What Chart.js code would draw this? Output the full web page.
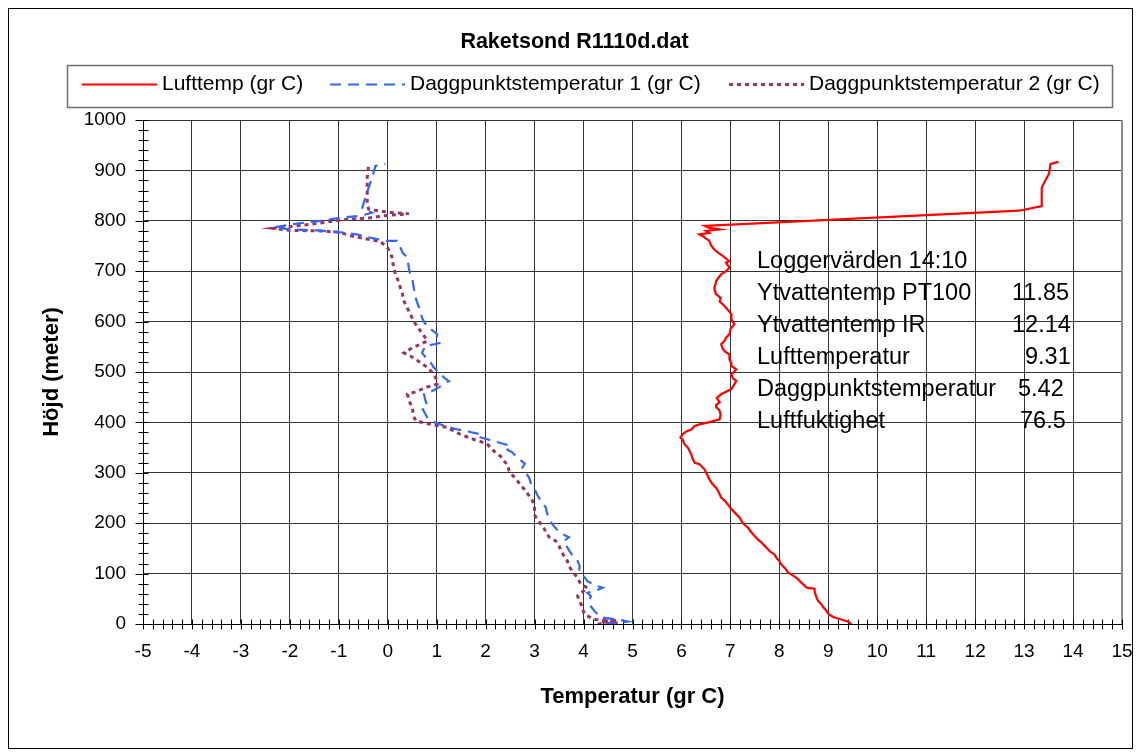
<!DOCTYPE html>
<html>
<head>
<meta charset="utf-8">
<title>Raketsond R1110d.dat</title>
<script src="https://cdn.jsdelivr.net/npm/chart.js@4.4.1/dist/chart.umd.min.js"></script>
<style>
  html, body { margin: 0; padding: 0; background: #ffffff; }
  canvas { display: block; }
</style>
</head>
<body>
<canvas id="sond" width="1139" height="754"></canvas>
<script>
// ---- Texts ----
const chartTitle = 'Raketsond R1110d.dat';
const xTitle = 'Temperatur (gr C)';
const yTitle = 'Höjd (meter)';
const seriesNames = ['Lufttemp (gr C)', 'Daggpunktstemperatur 1 (gr C)', 'Daggpunktstemperatur 2 (gr C)'];

// ---- Sounding profiles: temperature (°C) and height (m) ----
const luftT = [9.47, 9.40, 9.33, 9.20, 9.10, 9.00, 8.95, 8.90, 8.85, 8.79, 8.75, 8.72, 8.72, 8.60, 8.55, 8.45, 8.38, 8.30, 8.18, 8.12,
  8.04, 8.00, 7.95, 7.90, 7.82, 7.77, 7.70, 7.62, 7.56, 7.48, 7.42, 7.36, 7.30, 7.25, 7.19, 7.10, 7.02, 6.95, 6.88, 6.81,
  6.76, 6.71, 6.63, 6.57, 6.52, 6.47, 6.37, 6.27, 6.22, 6.20, 6.13, 6.06, 6.03, 5.98, 6.03, 6.10, 6.20, 6.27, 6.37, 6.55,
  6.78, 6.80, 6.78, 6.72, 6.71, 6.78, 6.72, 6.81, 6.95, 7.02, 7.12, 7.05, 7.02, 7.12, 7.02, 7.02, 6.98, 6.98, 6.90, 6.85,
  6.81, 6.88, 6.91, 6.98, 7.00, 7.08, 7.02, 7.02, 6.88, 6.78, 6.80, 6.70, 6.67, 6.70, 6.71, 6.81, 6.91, 6.98, 6.91, 6.98,
  6.85, 6.75, 6.67, 6.60, 6.57, 6.43, 6.37, 6.57, 6.50, 6.78, 6.57, 6.48, 12.90, 13.36, 13.36, 13.51, 13.54, 13.70];
const luftH = [0, 5, 7, 11, 14, 20, 28, 33, 40, 46, 55, 65, 70, 71, 73, 82, 89, 95, 102, 110,
  118, 125, 130, 138, 143, 148, 155, 163, 168, 176, 183, 191, 196, 201, 211, 220, 228, 237, 245, 251,
  262, 270, 278, 287, 297, 307, 317, 320, 330, 337, 350, 357, 365, 370, 377, 382, 386, 393, 396, 400,
  406, 415, 423, 430, 435, 440, 448, 456, 463, 466, 482, 488, 495, 505, 512, 517, 525, 535, 540, 545,
  555, 562, 568, 575, 585, 595, 605, 615, 631, 640, 647, 655, 667, 675, 681, 694, 700, 707, 717, 720,
  730, 737, 743, 752, 760, 770, 773, 776, 780, 783, 786, 790, 820, 829, 866, 894, 913, 917];

const dagg1T = [4.45, 4.63, 4.90, 4.75, 4.36, 4.30, 4.22, 4.15, 4.11, 4.15, 4.08, 4.25, 4.39, 4.25, 4.08, 4.00, 3.91, 3.92, 3.88, 3.78,
  3.71, 3.65, 3.60, 3.70, 3.57, 3.45, 3.36, 3.30, 3.26, 3.23, 3.13, 3.05, 2.99, 2.92, 2.89, 2.82, 2.75, 2.80, 2.62, 2.55,
  2.38, 2.45, 2.17, 2.05, 1.90, 1.95, 1.73, 1.60, 1.42, 1.20, 1.08, 0.90, 0.81, 0.76, 0.70, 0.80, 0.77, 0.74, 0.90, 1.05,
  1.25, 1.15, 0.94, 0.88, 0.81, 0.70, 0.77, 0.95, 1.08, 1.00, 1.01, 0.84, 0.75, 0.70, 0.64, 0.60, 0.57, 0.55, 0.53, 0.50,
  0.45, 0.43, 0.40, 0.30, 0.26, 0.19, -0.01, -0.29, -0.63, -1.04, -1.45, -1.99, -2.33, -1.89, -1.38, -0.97, -0.56, -0.32, -0.52, -0.46,
  -0.39, -0.32, -0.25, -0.05];
const dagg1H = [0, 1, 5, 8, 13, 18, 26, 35, 46, 55, 62, 66, 72, 76, 85, 95, 105, 115, 125, 135,
  145, 155, 165, 172, 178, 188, 198, 208, 218, 231, 244, 257, 270, 280, 290, 300, 310, 318, 333, 340,
  350, 355, 363, 366, 370, 375, 380, 383, 386, 392, 396, 402, 409, 418, 429, 436, 443, 456, 462, 470,
  482, 489, 509, 518, 525, 538, 552, 555, 558, 566, 575, 588, 598, 608, 628, 638, 647, 657, 667, 687,
  697, 707, 727, 737, 747, 760, 760, 765, 773, 778, 781, 783, 787, 794, 800, 806, 810, 816, 826, 846,
  866, 886, 909, 913];

const dagg2T = [4.29, 4.70, 4.36, 4.69, 4.22, 4.02, 3.98, 3.95, 3.90, 3.88, 3.98, 4.08, 3.95, 3.91, 3.85, 3.77, 3.70, 3.67, 3.60, 3.54,
  3.50, 3.43, 3.30, 3.26, 3.20, 3.13, 3.05, 2.99, 3.00, 2.96, 2.88, 2.82, 2.72, 2.65, 2.55, 2.48, 2.45, 2.38, 2.30, 2.17,
  2.10, 2.03, 1.90, 1.76, 1.60, 1.49, 1.35, 1.22, 1.05, 0.88, 0.57, 0.53, 0.50, 0.45, 0.40, 0.55, 0.60, 0.80, 1.01, 0.98,
  0.90, 0.81, 0.65, 0.53, 0.33, 0.50, 0.67, 0.81, 0.67, 0.60, 0.53, 0.43, 0.38, 0.33, 0.30, 0.26, 0.19, 0.15, 0.12, 0.09,
  0.05, -0.01, -0.15, -0.49, -0.76, -0.97, -1.38, -1.99, -2.33, -1.58, -0.83, -0.35, -0.08, 0.43, 0.12, -0.15, -0.39, -0.42, -0.42, -0.39];
const dagg2H = [0, 2, 5, 7, 9, 19, 30, 39, 48, 56, 64, 72, 78, 85, 95, 105, 115, 125, 135, 145,
  155, 165, 172, 178, 188, 198, 208, 218, 230, 244, 255, 264, 275, 284, 295, 304, 315, 323, 333, 343,
  350, 357, 362, 366, 372, 376, 383, 390, 393, 396, 403, 412, 429, 440, 456, 460, 462, 470, 476, 489,
  500, 509, 520, 528, 538, 548, 555, 562, 581, 590, 601, 621, 630, 641, 655, 667, 687, 697, 707, 727,
  737, 747, 759, 765, 770, 777, 780, 781, 785, 793, 803, 806, 810, 814, 816, 819, 823, 833, 886, 912];

// ---- Logger readings shown inside the plot ----
const infoLabels = ['Loggervärden 14:10', 'Ytvattentemp PT100', 'Ytvattentemp IR', 'Lufttemperatur', 'Daggpunktstemperatur', 'Luftfuktighet'];
const infoValues = ['', '11.85', '12.14', '9.31', '5.42', '76.5'];

// ---- Axis ranges ----
const xMin = -5, xMax = 15, xStep = 1, xMinorStep = 0.2;
const yMin = 0, yMax = 1000, yStep = 100, yMinorStep = 20;

const FONT = "'Liberation Sans', Arial, Helvetica, sans-serif";
const colors = ['#ff0000', '#3366ff', '#993366'];
const dashes = [[], [11, 7], [4, 4]];
const widths = [2.2, 2.2, 3];

const toPoints = (xs, ys) => xs.map((v, i) => ({ x: v, y: ys[i] }));

const datasets = [
  [luftT, luftH], [dagg1T, dagg1H], [dagg2T, dagg2H]
].map(([xs, ys], i) => ({
  label: seriesNames[i],
  data: toPoints(xs, ys),
  showLine: true,
  borderColor: colors[i],
  backgroundColor: colors[i],
  borderWidth: widths[i],
  borderDash: dashes[i],
  pointRadius: 0,
  pointHoverRadius: 0,
  tension: 0,
  fill: false
}));

// Background, outer frame, axes with crossing tick marks, title, legend and info block
const decorations = {
  id: 'decorations',
  beforeDraw(chart) {
    const ctx = chart.ctx;
    ctx.save();
    ctx.fillStyle = '#ffffff';
    ctx.fillRect(0, 0, chart.width, chart.height);
    ctx.strokeStyle = '#000000';
    ctx.lineWidth = 1;
    ctx.strokeRect(8.5, 8.5, 1124, 740);
    ctx.restore();
  },
  beforeDatasetsDraw(chart) {
    const ctx = chart.ctx;
    const a = chart.chartArea;
    const xs = chart.scales.x, ys = chart.scales.y;
    ctx.save();
    // plot-area right edge
    ctx.strokeStyle = '#8a8a8a';
    ctx.lineWidth = 2;
    ctx.beginPath();
    ctx.moveTo(a.right, a.top);
    ctx.lineTo(a.right, a.bottom);
    ctx.stroke();

    ctx.strokeStyle = '#000000';
    ctx.lineWidth = 1;
    const ax = Math.round(xs.getPixelForValue(xMin)) + 0.5;
    const ay = Math.round(ys.getPixelForValue(yMin)) + 0.5;
    ctx.beginPath();
    // axis lines
    ctx.moveTo(ax, a.top);
    ctx.lineTo(ax, a.bottom + 1);
    ctx.moveTo(a.left, ay);
    ctx.lineTo(a.right, ay);
    // x ticks crossing the axis
    const nx = Math.round((xMax - xMin) / xMinorStep);
    for (let i = 0; i <= nx; i++) {
      const px = Math.round(xs.getPixelForValue(xMin + i * xMinorStep)) + 0.5;
      ctx.moveTo(px, ay - 5);
      ctx.lineTo(px, ay + 5);
    }
    // y ticks crossing the axis (major ones longer outside)
    const ny = Math.round((yMax - yMin) / yMinorStep);
    const perMajor = Math.round(yStep / yMinorStep);
    for (let i = 0; i <= ny; i++) {
      const py = Math.round(ys.getPixelForValue(yMin + i * yMinorStep)) + 0.5;
      const major = i % perMajor === 0;
      ctx.moveTo(ax - (major ? 8 : 5), py);
      ctx.lineTo(ax + 5, py);
    }
    ctx.stroke();
    ctx.restore();
  },
  afterDraw(chart) {
    const ctx = chart.ctx;
    ctx.save();
    ctx.fillStyle = '#000000';
    ctx.textBaseline = 'middle';

    // title
    ctx.font = 'bold 21.5px ' + FONT;
    ctx.textAlign = 'center';
    ctx.fillText(chartTitle, 574.5, 42);

    // legend box
    ctx.strokeStyle = '#6e6e6e';
    ctx.lineWidth = 1.5;
    ctx.strokeRect(67.5, 65.5, 1045, 42);
    ctx.font = '21px ' + FONT;
    ctx.textAlign = 'left';
    const sampleStarts = [82, 330, 729];
    const lineY = 84.5;
    chart.data.datasets.forEach((ds, i) => {
      const x0 = sampleStarts[i];
      ctx.save();
      ctx.strokeStyle = ds.borderColor;
      ctx.lineWidth = ds.borderWidth;
      ctx.setLineDash(ds.borderDash);
      ctx.beginPath();
      ctx.moveTo(x0, lineY);
      ctx.lineTo(x0 + 75, lineY);
      ctx.stroke();
      ctx.restore();
      ctx.fillText(ds.label, x0 + 80, 84);
    });

    // logger readings
    ctx.font = '23.5px ' + FONT;
    ctx.textBaseline = 'alphabetic';
    const valueX = [0, 1012, 1012, 1025, 1018, 1020];
    infoLabels.forEach((t, i) => {
      const base = 268 + i * 32;
      ctx.fillText(t, 757, base);
      if (infoValues[i]) ctx.fillText(infoValues[i], valueX[i], base);
    });
    ctx.restore();
  }
};

Chart.defaults.font.family = FONT;
Chart.defaults.color = '#000000';

new Chart(document.getElementById('sond'), {
  type: 'scatter',
  data: { datasets },
  options: {
    responsive: false,
    devicePixelRatio: 1,
    animation: false,
    events: [],
    layout: { padding: { left: 0, right: 17, top: 120, bottom: 0 } },
    plugins: {
      legend: { display: false },
      title: { display: false },
      tooltip: { enabled: false }
    },
    scales: {
      x: {
        type: 'linear',
        min: xMin,
        max: xMax,
        afterFit(scale) {
          scale.height = 130;
          scale.paddingLeft = 0;
          scale.paddingRight = 0;
        },
        ticks: {
          stepSize: xStep, padding: 16, font: { size: 19 }, color: '#000000',
          callback: (v) => String(v)
        },
        grid: { color: '#333333', lineWidth: 1, drawTicks: false },
        border: { display: false },
        title: {
          display: true,
          text: xTitle,
          font: { size: 22, weight: 'bold' },
          color: '#000000',
          padding: { top: 0, bottom: 44 }
        }
      },
      y: {
        type: 'linear',
        min: yMin,
        max: yMax,
        afterFit(scale) {
          scale.width = 143;
          scale.paddingTop = 0;
          scale.paddingBottom = 0;
        },
        ticks: {
          stepSize: yStep, padding: 17, font: { size: 19 }, color: '#000000',
          callback: (v) => String(v)
        },
        grid: { color: '#333333', lineWidth: 1, drawTicks: false },
        border: { display: false },
        title: {
          display: true,
          text: yTitle,
          font: { size: 22, weight: 'bold' },
          color: '#000000',
          padding: { top: 39, bottom: 0 }
        }
      }
    }
  },
  plugins: [decorations]
});
</script>
</body>
</html>
